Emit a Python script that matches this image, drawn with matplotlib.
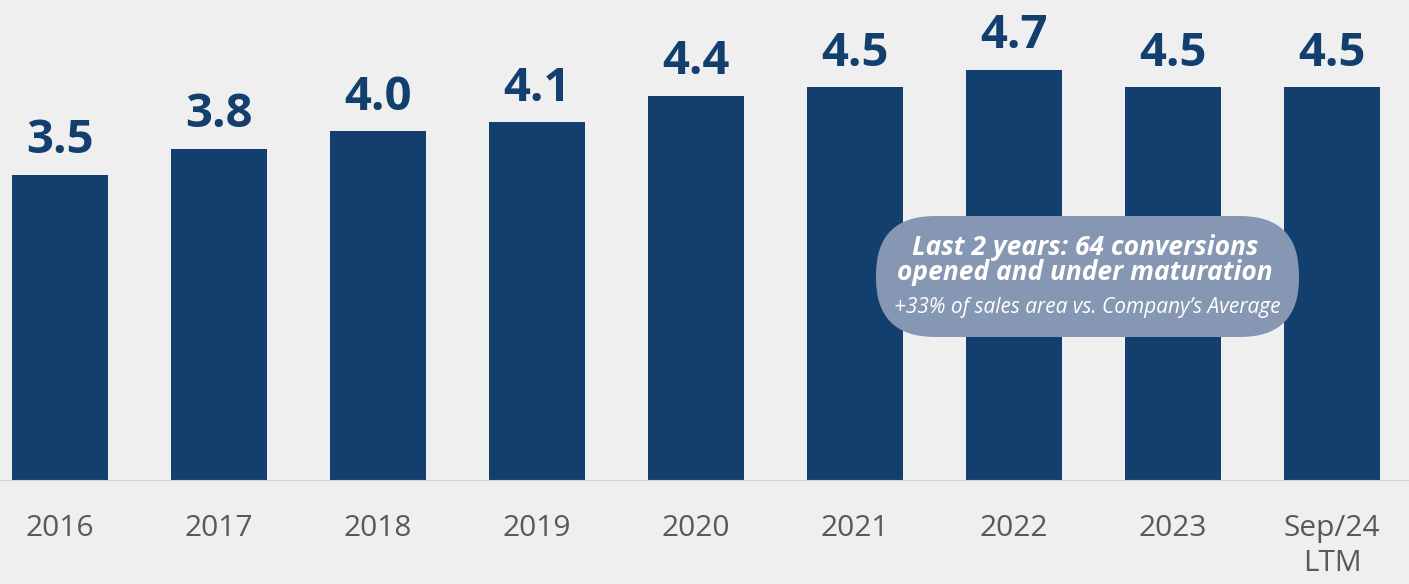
import matplotlib
matplotlib.use("Agg")
import matplotlib.pyplot as plt
from matplotlib.patches import FancyBboxPatch
from matplotlib.transforms import IdentityTransform

# ============================================================
# Data
# ============================================================

categories = ["2016", "2017", "2018", "2019", "2020", "2021", "2022", "2023", "Sep/24\nLTM"]
values = [3.5, 3.8, 4.0, 4.1, 4.4, 4.5, 4.7, 4.5, 4.5]
value_labels = ["3.5", "3.8", "4.0", "4.1", "4.4", "4.5", "4.7", "4.5", "4.5"]

note_title = "Last 2 years: 64 conversions\nopened and under maturation"
note_sub = "+33% of sales area vs. Company\u2019s Average"

BAR_COLOR = "#133f6f"
BG = "#efefef"

plt.rcParams["font.family"] = ["Open Sans", "DejaVu Sans"]

# ============================================================
# Figure
# ============================================================

fig = plt.figure(figsize=(14.09, 5.84), dpi=100, facecolor=BG)
ax = fig.add_axes([0, 103 / 584, 1, 481 / 584])
ax.set_facecolor(BG)

x = list(range(len(categories)))
ax.bar(x, values, width=0.61, color=BAR_COLOR, zorder=2)
ax.axhline(0, color="#d4d4d4", lw=1.5, zorder=3)

for xi, v, lab in zip(x, values, value_labels):
    ax.text(xi, v + 0.12, lab, ha="center", va="bottom",
            fontsize=34, fontweight="bold", color=BAR_COLOR)

for xi, lab in zip(x, categories):
    ax.text(xi, -0.38, lab, ha="center", va="top", fontsize=21.5,
            color="#595959", linespacing=1.25)

ax.set_xlim(-60 / 159, 1349 / 159)
ax.set_ylim(0, 481 / 87.5)
ax.axis("off")

# ============================================================
# Annotation bubble
# ============================================================

box = FancyBboxPatch((935, 306), 305, 3,
                     boxstyle="round,pad=59,rounding_size=59",
                     transform=IdentityTransform(),
                     facecolor="#8597b2", edgecolor="none", zorder=5)
fig.patches.append(box)

fig.text(1085 / 1409, 1 - 260 / 584, note_title, ha="center", va="center",
         fontsize=19, fontweight="bold", fontstyle="italic", color="white",
         linespacing=0.92, zorder=6)
fig.text(1087 / 1409, 1 - 307 / 584, note_sub, ha="center", va="center",
         fontsize=15, fontstyle="italic", color="white", zorder=6)

fig.savefig("out.png", dpi=100, facecolor=BG)
